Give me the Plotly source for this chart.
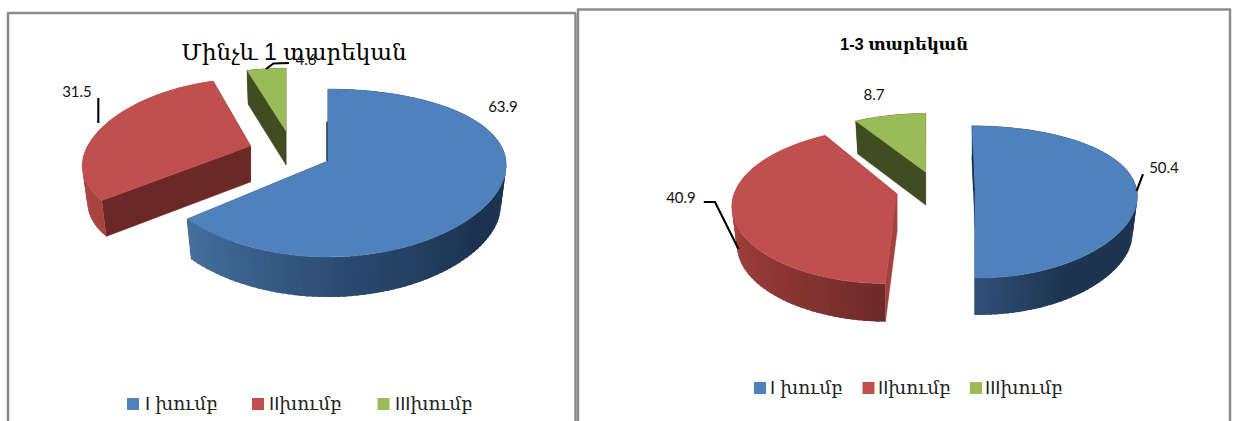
import math
import plotly.graph_objects as go

# ---- data ----
chart_titles = ["Մինչև 1 տարեկան", "1-3 տարեկան"]
groups = ["I խումբ", "IIխումբ", "IIIխումբ"]
values_under_1 = [63.9, 31.5, 4.6]
values_1_to_3 = [50.4, 40.9, 8.7]

# ---- styles ----
top_colors = ["#4f81bd", "#c0504d", "#9bbb59"]
cut_colors = ["#1c3350", "#6c2827", "#3f4d20"]
FRAME = "#8c8c8c"
SERIF = "Liberation Sans, DejaVu Serif"
LABEL = "Lato"
BOTTOM_SCALE = .97

# ---- layout geometry of each exploded slice (pixels) ----
G1 = [
    dict(ax=328, ay=161, rx=178, qx=.05, R=82.3, q=1/7, sh=0, d=40,
         shade=[(230, "#44709f"), (175, "#2b4a70"), (125, "#1c3350"), (60, "#1c3350")]),
    dict(ax=250.6, ay=146, rx=163, qx=.25, R=77, q=1/7, sh=0, d=36,
         shade=[(230, "#a8443f"), (300, "#b04a44")]),
    dict(ax=286, ay=131, rx=170, qx=.25, R=72, q=1/7, sh=0, d=34,
         shade=[(340, "#3f4d20"), (360, "#3f4d20")]),
]
G2 = [
    dict(ax=975, ay=191, rx=162, qx=.05, R=74.5, q=1/7, sh=.046, d=37,
         shade=[(182, "#31507a"), (150, "#1d3550"), (60, "#1c3350")]),
    dict(ax=897, ay=194, rx=163, qx=.125, R=77, q=1/7, sh=-.08, d=38, start_cut="#a4403d",
         shade=[(182, "#6e2b29"), (215, "#8a3533"), (265, "#a8443f"), (330, "#a8443f")]),
    dict(ax=925.6, ay=172, rx=149, qx=.125, R=67, q=1/7, sh=0, d=33,
         shade=[(320, "#3f4d20"), (360, "#3f4d20")]),
]
TITLE_POS = [(294, 54, 23, False), (904, 46, 16.5, True)]
LABEL_POS = [[(503, 108), (77, 93), (306, 61)], [(1164, 169), (681, 199), (874, 96)]]
LEADERS = [
    [[(98.3, 98), (98.3, 123)], [(266, 69), (273.5, 63.5), (289, 63)]],
    [[(1143, 174), (1136.5, 191)], [(703.8, 202), (715, 202), (738.5, 249)]],
]
LEG_MARK = [[(133, 404), (258, 404), (383.5, 404)], [(760, 388), (868.5, 388), (976, 388)]]
LEG_TEXT = [[145, 269, 395], [770, 878, 985]]
LEG_TEXT_DY = 1.5

fig = go.Figure()


def rgb(h):
    return [int(h[i:i + 2], 16) for i in (1, 3, 5)]


def shade_at(stops, a):
    s = sorted(stops)
    if a <= s[0][0]:
        return s[0][1]
    for (a0, c0), (a1, c1) in zip(s, s[1:]):
        if a <= a1:
            t = (a - a0) / (a1 - a0)
            c = [round(p + (r - p) * t) for p, r in zip(rgb(c0), rgb(c1))]
            return "rgb(%d,%d,%d)" % tuple(c)
    return s[-1][1]


def pt(g, deg):
    u, v = math.sin(math.radians(deg)), math.cos(math.radians(deg))
    y = -g["R"] * v / (1 + g["q"] * v)
    x = g["rx"] * u / (1 + g["qx"] * v) + g["sh"] * y
    return g["ax"] + x, g["ay"] + y


def poly(pts, color, width=0.0):
    xs = [p[0] for p in pts] + [pts[0][0]]
    ys = [p[1] for p in pts] + [pts[0][1]]
    fig.add_trace(go.Scatter(x=xs, y=ys, mode="lines", fill="toself", fillcolor=color,
                             line=dict(color=color, width=width), hoverinfo="skip", showlegend=False))


def line(pts, color="#000000", width=2.1):
    fig.add_trace(go.Scatter(x=[p[0] for p in pts], y=[p[1] for p in pts], mode="lines",
                             line=dict(color=color, width=width), hoverinfo="skip", showlegend=False))


def draw_slice(g, a0, a1, i):
    apex = (g["ax"], g["ay"])
    d = g["d"]

    def down(p):
        return (g["ax"] + (p[0] - g["ax"]) * BOTTOM_SCALE, p[1] + d)

    # cut faces
    for a, col in ((a1, cut_colors[i]), (a0, g.get("start_cut", cut_colors[i]))):
        e = pt(g, a)
        poly([apex, e, down(e), down(apex)], col, .4)
    # outer wall in small overlapping shaded bands
    n = max(4, int((a1 - a0) / 2))
    step = (a1 - a0) / n
    for k in range(n):
        b0 = a0 + step * k
        b1 = min(a1, b0 + step * 1.6)
        mid = [pt(g, b0 + (b1 - b0) * j / 3) for j in range(4)]
        poly(mid + [down(p) for p in reversed(mid)], shade_at(g["shade"], b0 + step / 2))
    # top face
    arc = [pt(g, a0 + (a1 - a0) * k / 120) for k in range(121)]
    poly([apex] + arc, top_colors[i], .5)


def draw_chart(values, geom, c):
    ang = 0.0
    spans = []
    for v in values:
        spans.append((ang, ang + v * 3.6))
        ang += v * 3.6
    for i in (2, 1, 0):
        draw_slice(geom[i], spans[i][0], spans[i][1], i)
    # thin dark edge along the start of the blue slice
    g = geom[0]
    top = pt(g, 0)
    line([(top[0] + (g["ax"] - top[0]) * .45 - 1, top[1] + (g["ay"] - top[1]) * .45),
          (g["ax"] - 1, g["ay"])], cut_colors[0], 1.5)
    for pts in LEADERS[c]:
        line(pts)
    fig.add_trace(go.Scatter(
        x=[p[0] for p in LABEL_POS[c]], y=[p[1] for p in LABEL_POS[c]], mode="text",
        text=[f"{v}" for v in values], textposition="middle center",
        textfont=dict(family=LABEL, size=15, color="#111111"), hoverinfo="skip", showlegend=False))
    # key
    for i, grp in enumerate(groups):
        mx, my = LEG_MARK[c][i]
        fig.add_trace(go.Scatter(x=[mx], y=[my], mode="markers", name=grp,
                                 marker=dict(symbol="square", size=12, color=top_colors[i]),
                                 hoverinfo="skip", showlegend=False))
        fig.add_trace(go.Scatter(x=[LEG_TEXT[c][i]], y=[my + LEG_TEXT_DY], mode="text", text=[grp],
                                 textposition="middle right",
                                 textfont=dict(family=SERIF, size=18.5, color="#222222"),
                                 hoverinfo="skip", showlegend=False))
    tx, ty, ts, bold = TITLE_POS[c]
    fig.add_trace(go.Scatter(x=[tx], y=[ty], mode="text", text=[chart_titles[c]],
                             textposition="middle center",
                             textfont=dict(family=SERIF, size=ts, color="#000000",
                                           weight="bold" if bold else "normal"),
                             hoverinfo="skip", showlegend=False))


draw_chart(values_under_1, G1, 0)
draw_chart(values_1_to_3, G2, 1)

fr = dict(type="line", xref="x", yref="y", line=dict(color=FRAME, width=2.5), layer="above")
shapes = [
    dict(fr, x0=7, y0=13, x1=576, y1=13), dict(fr, x0=8, y0=13, x1=8, y1=421),
    dict(fr, x0=575.5, y0=13, x1=575.5, y1=421),
    dict(fr, x0=577, y0=9.5, x1=1231, y1=9.5), dict(fr, x0=578, y0=9, x1=578, y1=421),
    dict(fr, x0=1230, y0=9, x1=1230, y1=421),
]
fig.update_layout(
    width=1233, height=421, autosize=False, showlegend=False,
    margin=dict(l=0, r=0, t=0, b=0), paper_bgcolor="white", plot_bgcolor="white",
    xaxis=dict(range=[0, 1233], visible=False, fixedrange=True),
    yaxis=dict(range=[421, 0], visible=False, fixedrange=True),
    shapes=shapes,
)
fig.write_html("out.html", config=dict(displayModeBar=False),
               post_script="document.body.style.margin='0';document.body.style.overflow='hidden';")
